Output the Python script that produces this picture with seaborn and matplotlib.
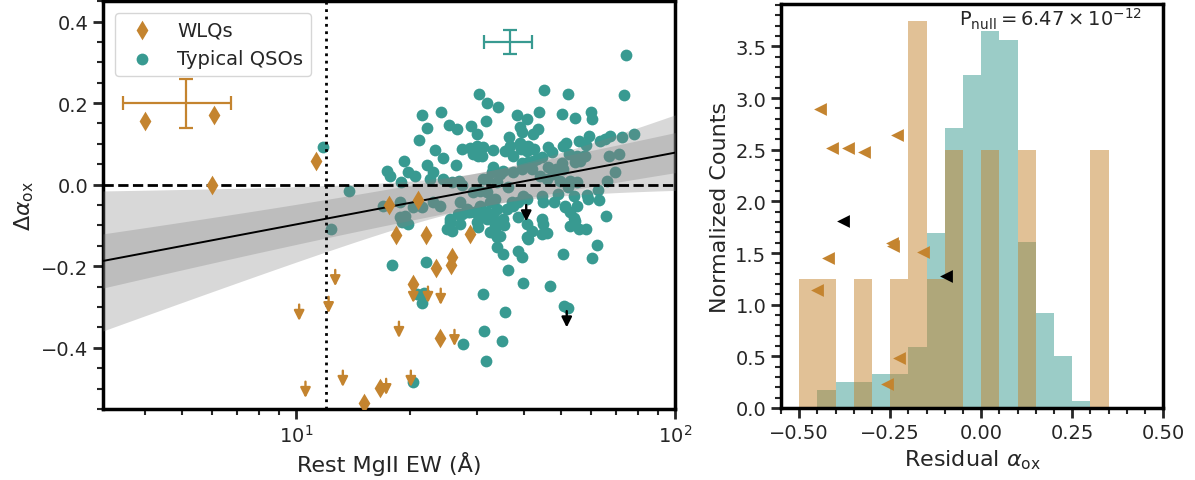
import numpy as np
import pandas as pd
import matplotlib
matplotlib.use("Agg")
import matplotlib.pyplot as plt
import seaborn as sns
from matplotlib.ticker import MultipleLocator, LogLocator

sns.set_style("ticks")
plt.rcParams["font.family"] = ["DejaVu Sans"]
plt.rcParams["mathtext.fontset"] = "dejavusans"

TAN = "#c4842f"
TEAL = "#389a91"

# ---------------- data: left panel ----------------
qso_ew = [74.2, 73.4, 45.1, 52.2, 30.4, 31.9, 34.1, 21.5, 24.1, 22.2,
          25.3, 26.6, 29.0, 30.0, 31.7, 38.3, 40.7, 43.8, 50.3, 54.5,
          60.0, 60.4, 39.0, 39.5, 43.5, 42.2, 36.5, 59.3, 21.1, 67.4,
          65.4, 78.0, 72.5, 23.3, 24.4, 26.4, 27.4, 28.8, 30.0, 31.1,
          29.3, 30.2, 33.1, 35.6, 37.4, 36.7, 39.0, 39.7, 40.9, 42.5,
          46.2, 47.4, 50.6, 51.6, 55.8, 58.2, 63.4, 52.5, 56.1, 57.9,
          67.0, 71.1, 69.5, 66.1, 19.3, 17.4, 17.7, 19.8, 20.6, 22.2,
          23.0, 22.6, 18.9, 24.4, 25.8, 26.9, 33.1, 32.9, 35.2, 39.5,
          40.9, 43.2, 44.6, 37.4, 31.1, 47.6, 50.6, 54.5, 45.9, 49.7,
          11.8, 39.2, 40.7, 42.2, 31.0, 46.2, 48.5, 50.3, 55.1, 57.5,
          39.5, 41.9, 44.0, 34.5, 31.9, 33.9, 27.4, 52.8, 55.1, 52.2,
          36.3, 29.3, 30.6, 13.8, 62.6, 58.9, 63.0, 54.2, 48.0, 51.3,
          55.1, 44.6, 44.8, 40.7, 38.5, 37.4, 36.0, 33.5, 33.9, 32.5,
          30.6, 27.1, 28.3, 28.8, 30.0, 26.8, 25.5, 23.0, 24.0, 21.5,
          20.4, 18.8, 19.4, 17.0, 65.7, 54.2, 58.6, 49.1, 39.7, 31.9,
          25.0, 25.8, 25.5, 27.1, 27.4, 28.4, 29.7, 31.0, 31.9, 30.0,
          30.2, 32.5, 33.5, 33.9, 35.2, 34.5, 33.9, 35.2, 38.5, 39.5,
          36.3, 39.7, 46.8, 50.6, 60.4, 62.2, 38.5, 40.7, 41.9, 40.7,
          44.6, 44.8, 44.6, 45.9, 52.8, 54.5, 55.8, 58.2, 51.3, 52.8,
          17.9, 22.0, 21.5, 20.9, 21.8, 31.1, 35.6, 31.4, 35.0, 27.6,
          31.7, 20.4, 51.0, 52.2, 19.8, 18.8, 19.1, 12.4, 40.9, 33.1,
          31.9, 33.5, 32.9, 33.9, 35.3, 37.1]
qso_dax = [0.317, 0.221, 0.231, 0.223, 0.223, 0.201, 0.191, 0.172, 0.177, 0.140,
           0.147, 0.137, 0.145, 0.125, 0.155, 0.172, 0.162, 0.177, 0.174, 0.164,
           0.179, 0.160, 0.142, 0.130, 0.137, 0.125, 0.118, 0.120, 0.110, 0.120,
           0.113, 0.125, 0.118, 0.086, 0.066, 0.047, 0.088, 0.091, 0.096, 0.093,
           0.076, 0.071, 0.086, 0.083, 0.071, 0.096, 0.101, 0.096, 0.096, 0.088,
           0.093, 0.079, 0.096, 0.101, 0.106, 0.098, 0.106, 0.076, 0.059, 0.071,
           0.071, 0.076, 0.032, 0.010, 0.059, 0.034, 0.022, 0.032, 0.022, 0.047,
           0.032, 0.015, 0.007, 0.015, 0.007, 0.010, 0.044, 0.032, 0.034, 0.052,
           0.056, 0.064, 0.069, 0.032, 0.015, 0.027, 0.039, 0.056, 0.015, 0.010,
           0.093, 0.088, 0.083, 0.059, 0.071, 0.044, 0.039, 0.052, 0.071, 0.071,
           0.039, 0.039, 0.022, 0.027, 0.015, 0.007, -0.002, 0.010, 0.007, -0.005,
           -0.005, -0.017, -0.015, -0.015, -0.012, -0.034, -0.037, -0.029, -0.042, -0.052,
           -0.052, -0.029, -0.042, -0.034, -0.042, -0.052, -0.059, -0.034, -0.059, -0.042,
           -0.052, -0.042, -0.059, -0.066, -0.064, -0.071, -0.083, -0.042, -0.052, -0.054,
           -0.054, -0.042, -0.076, -0.052, -0.076, -0.081, -0.025, -0.022, -0.027, -0.017,
           -0.108, -0.113, -0.091, -0.096, -0.071, -0.066, -0.066, -0.071, -0.066, -0.091,
           -0.103, -0.115, -0.108, -0.091, -0.083, -0.125, -0.152, -0.169, -0.162, -0.177,
           -0.209, -0.240, -0.248, -0.169, -0.179, -0.147, -0.079, -0.096, -0.113, -0.128,
           -0.083, -0.096, -0.120, -0.118, -0.101, -0.088, -0.108, -0.108, -0.054, -0.066,
           -0.196, -0.189, -0.290, -0.267, -0.265, -0.267, -0.312, -0.358, -0.383, -0.390,
           -0.432, -0.483, -0.297, -0.302, -0.096, -0.079, -0.091, -0.108, -0.132, -0.071,
           -0.083, -0.100, -0.116, -0.128, -0.100, -0.042]

wlq_ew = [4.0, 6.1, 6.0, 11.3, 17.6, 18.4, 16.7, 15.1, 21.0, 22.1, 28.8, 23.4, 25.8, 25.6, 20.4, 24.0]
wlq_dax = [0.155, 0.170, -0.002, 0.057, -0.051, -0.124, -0.499, -0.535, -0.037, -0.124,
           -0.122, -0.204, -0.177, -0.198, -0.243, -0.376]

wlq_lim_ew = [12.7, 12.2, 10.2, 10.6, 13.3, 17.3, 18.7, 20.4, 22.3, 24.1, 26.2, 20.1]
wlq_lim_dax = [-0.209, -0.275, -0.294, -0.483, -0.456, -0.476, -0.336, -0.250, -0.250, -0.255, -0.356, -0.456]

qso_lim_ew = [40.5, 51.8]
qso_lim_dax = [-0.05, -0.31]

# typical error bars
wlq_err_x, wlq_err_y = 5.13, 0.20
wlq_err_xlo, wlq_err_xhi, wlq_err_dy = 1.64, 1.60, 0.06
qso_err_x, qso_err_y = 36.6, 0.35
qso_err_xlo, qso_err_xhi, qso_err_dy = 5.2, 5.4, 0.03

# regression fit (y = a + b log10 EW) and band parameters
fit_a, fit_b = -0.2735, 0.176
band_pivot = 1.5
inner_s0, inner_sb = 0.042, 0.051
outer_s0, outer_sb = 0.042, 0.165
ew_cut = 12.0

# ---------------- data: right panel ----------------
bin_edges = [-0.50, -0.45, -0.40, -0.35, -0.30, -0.25, -0.20, -0.15, -0.10, -0.05,
             0.00, 0.05, 0.10, 0.15, 0.20, 0.25, 0.30, 0.35]
qso_hist = [0.00, 0.17, 0.25, 0.25, 0.33, 0.33, 0.59, 1.69, 2.71, 3.22,
            3.65, 3.56, 1.61, 0.92, 0.50, 0.07, 0.00]
wlq_hist = [1.25, 1.25, 0.00, 1.25, 0.00, 1.25, 3.75, 1.25, 2.50, 0.00,
            2.50, 0.00, 2.50, 0.00, 0.00, 0.00, 2.50]

wlq_res_lim = [-0.443, -0.411, -0.365, -0.322, -0.230, -0.246, -0.241, -0.160, -0.422, -0.452, -0.226, -0.258]
wlq_res_lim_y = [2.89, 2.52, 2.52, 2.48, 2.64, 1.60, 1.57, 1.51, 1.45, 1.14, 0.48, 0.23]
qso_res_lim = [-0.381, -0.097]
qso_res_lim_y = [1.81, 1.28]

p_null_text = r"$\mathrm{P_{null}} = 6.47 \times 10^{-12}$"

# ---------------- figure ----------------
fig = plt.figure(figsize=(11.95, 4.81), dpi=100)
ax1 = fig.add_axes([0.0862, 0.1476, 0.4787, 0.848])
ax2 = fig.add_axes([0.6536, 0.1497, 0.3197, 0.8399])

qso_df = pd.DataFrame({"ew": qso_ew, "dax": qso_dax})
wlq_df = pd.DataFrame({"ew": wlq_ew, "dax": wlq_dax})

sns.scatterplot(data=qso_df, x="ew", y="dax", ax=ax1, color=TEAL, s=72,
                linewidth=0, marker="o", zorder=2, label="Typical QSOs")

# regression line and bands
xx = np.logspace(np.log10(3.1), 2, 200)
u = np.log10(xx)
yy = fit_a + fit_b * u
hw_in = np.sqrt(inner_s0**2 + (inner_sb * (u - band_pivot))**2)
hw_out = np.sqrt(outer_s0**2 + (outer_sb * (u - band_pivot))**2)
ax1.fill_between(xx, yy - hw_out, yy + hw_out, color="gray", alpha=0.3, lw=0, zorder=3)
ax1.fill_between(xx, yy - hw_in, yy + hw_in, color="gray", alpha=0.3, lw=0, zorder=3)
sns.lineplot(x=xx, y=yy, ax=ax1, color="black", lw=1.4, zorder=4)

ax1.axhline(0, color="black", ls="--", lw=2, zorder=5)
ax1.axvline(ew_cut, color="black", ls=":", lw=2, zorder=5)

sns.scatterplot(data=wlq_df, x="ew", y="dax", ax=ax1, color=TAN, s=100,
                linewidth=0, marker="d", zorder=6, label="WLQs")

for xv, yv in zip(wlq_lim_ew, wlq_lim_dax):
    ax1.annotate("", xy=(xv, yv - 0.04), xytext=(xv, yv),
                 arrowprops=dict(arrowstyle="-|>", color=TAN, lw=1.7,
                                 mutation_scale=15, shrinkA=0, shrinkB=0), zorder=6)
for xv, yv in zip(qso_lim_ew, qso_lim_dax):
    ax1.annotate("", xy=(xv, yv - 0.04), xytext=(xv, yv),
                 arrowprops=dict(arrowstyle="-|>", color="black", lw=1.7,
                                 mutation_scale=15, shrinkA=0, shrinkB=0), zorder=6)

ax1.errorbar([wlq_err_x], [wlq_err_y], xerr=[[wlq_err_xlo], [wlq_err_xhi]],
             yerr=wlq_err_dy, fmt="none", ecolor=TAN, elinewidth=1.6, capsize=5, capthick=1.6)
ax1.errorbar([qso_err_x], [qso_err_y], xerr=[[qso_err_xlo], [qso_err_xhi]],
             yerr=qso_err_dy, fmt="none", ecolor=TEAL, elinewidth=1.6, capsize=5, capthick=1.6)

ax1.set_xscale("log")
ax1.set_xlim(3.1, 100)
ax1.set_ylim(-0.55, 0.45)
ax1.yaxis.set_major_locator(MultipleLocator(0.2))
ax1.yaxis.set_minor_locator(MultipleLocator(0.05))
ax1.set_xlabel("Rest MgII EW (Å)", fontsize=16)
ax1.set_ylabel(r"$\Delta\alpha_{\rm ox}$", fontsize=16)

h, l = ax1.get_legend_handles_labels()
order = [l.index("WLQs"), l.index("Typical QSOs")]
ax1.legend([h[i] for i in order], [l[i] for i in order], loc="upper left",
           fontsize=14, frameon=True, fancybox=True, borderaxespad=0.6)

# right panel
sns.histplot(x=np.array(bin_edges[:-1]) + 0.025, weights=qso_hist, bins=bin_edges,
             ax=ax2, color=TEAL, alpha=0.5, linewidth=0, stat="count", zorder=1)
sns.histplot(x=np.array(bin_edges[:-1]) + 0.025, weights=wlq_hist, bins=bin_edges,
             ax=ax2, color=TAN, alpha=0.5, linewidth=0, stat="count", zorder=2)
ax2.scatter(wlq_res_lim, wlq_res_lim_y, marker="<", s=85, color=TAN, linewidth=0, zorder=5)
ax2.scatter(qso_res_lim, qso_res_lim_y, marker="<", s=85, color="black", linewidth=0, zorder=5)
ax2.text(0.945, 0.995, p_null_text, transform=ax2.transAxes, ha="right", va="top", fontsize=14)

ax2.set_xlim(-0.55, 0.5)
ax2.set_ylim(0, 3.91)
ax2.xaxis.set_major_locator(MultipleLocator(0.25))
ax2.xaxis.set_minor_locator(MultipleLocator(0.05))
ax2.yaxis.set_major_locator(MultipleLocator(0.5))
ax2.yaxis.set_minor_locator(MultipleLocator(0.1))
ax2.set_xlabel(r"Residual $\alpha_{\rm ox}$", fontsize=16)
ax2.set_ylabel("Normalized Counts", fontsize=16)

for ax in (ax1, ax2):
    for sp in ax.spines.values():
        sp.set_visible(True)
        sp.set_linewidth(2.5)
        sp.set_color("black")
    ax.tick_params(which="major", direction="out", length=7, width=2, labelsize=14,
                   top=False, right=False)
    ax.tick_params(which="minor", direction="out", length=4, width=1.5,
                   top=False, right=False)

fig.savefig("out.png", dpi=100)
